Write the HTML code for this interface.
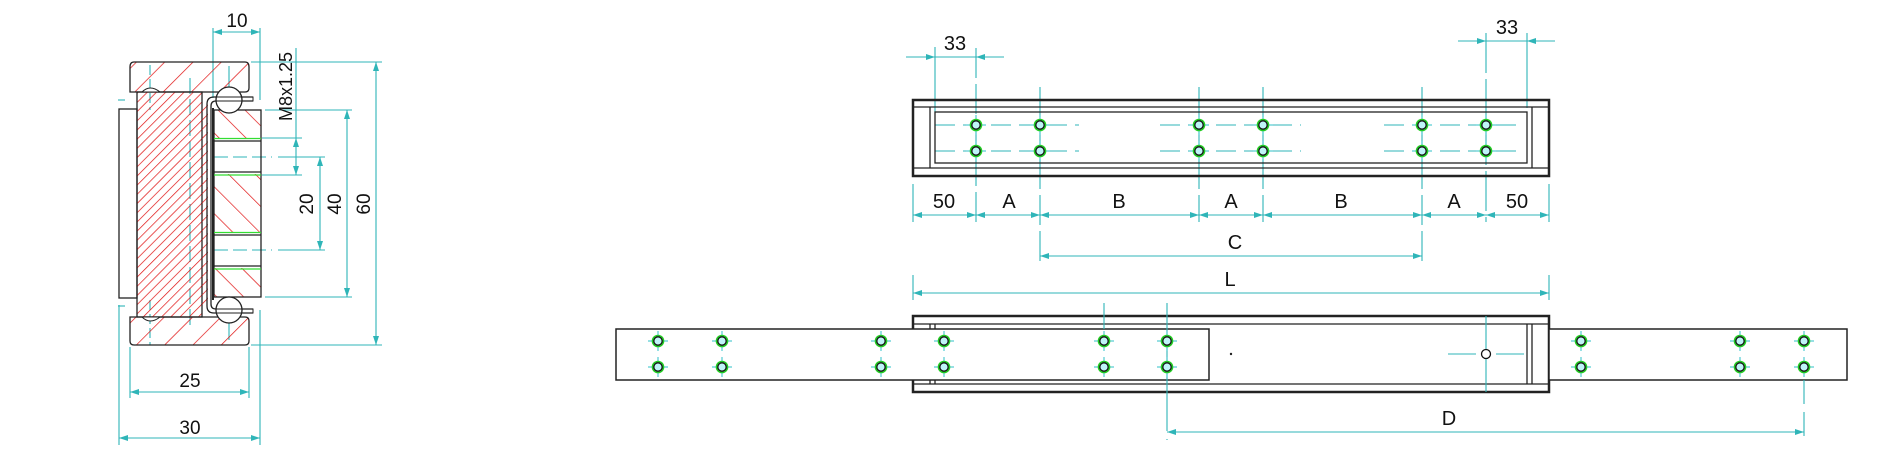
<!DOCTYPE html>
<html><head><meta charset="utf-8"><style>
html,body{margin:0;padding:0;background:#fff;}
svg{display:block;}
text{font-family:"Liberation Sans",sans-serif;fill:#111;}
</style></head><body>
<svg width="1900" height="460" viewBox="0 0 1900 460" xmlns="http://www.w3.org/2000/svg">
<defs>
<pattern id="hb" patternUnits="userSpaceOnUse" width="6.5" height="6.5" patternTransform="rotate(45)">
<line x1="0" y1="0" x2="0" y2="6.5" stroke="#e01010" stroke-width="1.4"/></pattern>
<pattern id="hf" patternUnits="userSpaceOnUse" width="20" height="20" patternTransform="rotate(45)">
<line x1="0" y1="0" x2="0" y2="20" stroke="#e01010" stroke-width="1.4"/></pattern>
<pattern id="hr" patternUnits="userSpaceOnUse" width="19" height="19" patternTransform="rotate(-45)">
<line x1="0" y1="0" x2="0" y2="19" stroke="#e01010" stroke-width="1.4"/></pattern>
<g id="hole">
<line x1="-10" y1="0" x2="10" y2="0" stroke="#2fc0c8" stroke-width="1"/>
<line x1="0" y1="-10" x2="0" y2="10" stroke="#2fc0c8" stroke-width="1"/>
<circle r="5.5" fill="#bff4f8" stroke="#22cc22" stroke-width="1.6"/>
<circle r="4.2" fill="none" stroke="#111" stroke-width="1.3"/>
</g>
</defs>

<!-- ===== LEFT SECTION ===== -->
<g stroke="#2fb5b8" stroke-width="1.1" fill="none">
<line x1="213" y1="28" x2="213" y2="98"/><line x1="260" y1="28" x2="260" y2="100"/>
<line x1="213" y1="32" x2="260" y2="32"/>
<line x1="296" y1="48" x2="296" y2="175"/>
<line x1="262" y1="138" x2="302" y2="138"/><line x1="262" y1="175" x2="302" y2="175"/>
<line x1="278" y1="157" x2="325" y2="157"/><line x1="278" y1="250" x2="325" y2="250"/>
<line x1="320" y1="157" x2="320" y2="250"/>
<line x1="265" y1="110" x2="352" y2="110"/><line x1="265" y1="297" x2="352" y2="297"/>
<line x1="347" y1="110" x2="347" y2="297"/>
<line x1="251" y1="62" x2="382" y2="62"/><line x1="251" y1="345" x2="382" y2="345"/>
<line x1="376" y1="62" x2="376" y2="345"/>
<line x1="130" y1="347" x2="130" y2="398"/><line x1="249" y1="347" x2="249" y2="398"/>
<line x1="130" y1="392" x2="249" y2="392"/>
<line x1="119" y1="305" x2="119" y2="445"/><line x1="260" y1="310" x2="260" y2="445"/>
<line x1="119" y1="438" x2="260" y2="438"/>
<line x1="214" y1="157" x2="272" y2="157" stroke-dasharray="14 5"/>
<line x1="214" y1="250" x2="272" y2="250" stroke-dasharray="14 5"/>
<line x1="150" y1="65" x2="150" y2="110" stroke-dasharray="10 4"/>
<line x1="150" y1="300" x2="150" y2="345" stroke-dasharray="10 4"/>
<line x1="190" y1="78" x2="190" y2="330" stroke-dasharray="16 5"/>
<line x1="229" y1="66" x2="229" y2="110"/><line x1="229" y1="298" x2="229" y2="340"/>
<line x1="118" y1="100" x2="125" y2="100"/><line x1="118" y1="306" x2="125" y2="306"/>
</g>
<g fill="#2fb5b8">
<polygon points="213,32 222,29 222,35"/><polygon points="260,32 251,29 251,35"/>
<polygon points="296,138 293,147 299,147"/><polygon points="296,175 293,166 299,166"/>
<polygon points="320,157 317,166 323,166"/><polygon points="320,250 317,241 323,241"/>
<polygon points="347,110 344,119 350,119"/><polygon points="347,297 344,288 350,288"/>
<polygon points="376,62 373,71 379,71"/><polygon points="376,345 373,336 379,336"/>
<polygon points="130,392 139,389 139,395"/><polygon points="249,392 240,389 240,395"/>
<polygon points="119,438 128,435 128,441"/><polygon points="260,438 251,435 251,441"/>
</g>
<rect x="119" y="109" width="18" height="189" fill="#fff" stroke="#222" stroke-width="1.3"/>
<path d="M134,62 L245,62 Q249,62 249,67 L249,88 Q249,92 245,92 L130,92 L130,67 Q130,62 134,62 Z" fill="url(#hf)" stroke="#222" stroke-width="1.3"/>
<path d="M130,317 L245,317 Q249,317 249,321 L249,341 Q249,345 245,345 L134,345 Q130,345 130,341 Z" fill="url(#hf)" stroke="#222" stroke-width="1.3"/>
<rect x="137" y="92" width="65" height="225" fill="url(#hb)" stroke="#222" stroke-width="1.3"/>
<path d="M142,92 Q150,84 160,92 Z" fill="#fff" stroke="#222"/>
<path d="M142,317 Q150,325 160,317 Z" fill="#fff" stroke="#222"/>
<rect x="202" y="104" width="6" height="202" fill="url(#hb)"/>
<path d="M253,97 L214,97 Q207,97 207,104 L207,306 Q207,313 214,313 L253,313" fill="none" stroke="#222" stroke-width="1.3"/>
<path d="M253,101 L216,101 Q211,101 211,106 L211,304 Q211,309 216,309 L253,309" fill="none" stroke="#222" stroke-width="1.3"/>
<line x1="213" y1="108" x2="213" y2="300" stroke="#222" stroke-width="2"/>
<rect x="214" y="110" width="47" height="28" fill="url(#hr)"/>
<rect x="214" y="174" width="47" height="59" fill="url(#hr)"/>
<rect x="214" y="268" width="47" height="29" fill="url(#hr)"/>
<rect x="214" y="110" width="47" height="187" fill="none" stroke="#222" stroke-width="1.3"/>
<g stroke="#222" stroke-width="1.2">
<line x1="214" y1="141" x2="261" y2="141"/><line x1="214" y1="172" x2="261" y2="172"/>
<line x1="214" y1="235" x2="261" y2="235"/><line x1="214" y1="266" x2="261" y2="266"/>
</g>
<g stroke="#33dd33" stroke-width="1.2">
<line x1="214" y1="138.5" x2="261" y2="138.5"/><line x1="214" y1="175" x2="261" y2="175"/>
<line x1="214" y1="232.5" x2="261" y2="232.5"/><line x1="214" y1="269" x2="261" y2="269"/>
</g>
<circle cx="229" cy="100" r="13" fill="#fff" stroke="#222" stroke-width="1.3"/>
<circle cx="229" cy="310" r="13" fill="#fff" stroke="#222" stroke-width="1.3"/>
<path d="M216,97 L253,97 L253,101 L216,101" fill="none" stroke="#222" stroke-width="1"/>
<path d="M216,309 L253,309 L253,313 L216,313" fill="none" stroke="#222" stroke-width="1"/>

<g font-size="19">
<text x="237" y="27" text-anchor="middle">10</text>
<text x="190" y="387" text-anchor="middle">25</text>
<text x="190" y="434" text-anchor="middle">30</text>
<text transform="translate(292,121) rotate(-90)" text-anchor="start" font-size="18">M8x1.25</text>
<text transform="translate(313,204) rotate(-90)" text-anchor="middle">20</text>
<text transform="translate(341,204) rotate(-90)" text-anchor="middle">40</text>
<text transform="translate(370,204) rotate(-90)" text-anchor="middle">60</text>
</g>

<!-- ===== TOP RAIL VIEW ===== -->
<g stroke="#2fb5b8" stroke-width="1.1" fill="none">
<line x1="906" y1="57" x2="1004" y2="57"/>
<line x1="935" y1="47" x2="935" y2="112"/>
<line x1="976" y1="48" x2="976" y2="222" stroke-dasharray="30 6"/>
<line x1="1458" y1="41" x2="1555" y2="41"/>
<line x1="1486" y1="33" x2="1486" y2="222" stroke-dasharray="40 6"/>
<line x1="1527" y1="33" x2="1527" y2="108"/>
<line x1="1040" y1="87" x2="1040" y2="262" stroke-dasharray="30 6"/>
<line x1="1199" y1="87" x2="1199" y2="222" stroke-dasharray="30 6"/>
<line x1="1263" y1="87" x2="1263" y2="222" stroke-dasharray="30 6"/>
<line x1="1422" y1="87" x2="1422" y2="262" stroke-dasharray="30 6"/>
<line x1="913" y1="184" x2="913" y2="222"/><line x1="1549" y1="184" x2="1549" y2="222"/>
<line x1="913" y1="215" x2="1549" y2="215"/>
<line x1="1040" y1="256" x2="1422" y2="256"/>
<line x1="913" y1="275" x2="913" y2="300"/><line x1="1549" y1="275" x2="1549" y2="300"/>
<line x1="913" y1="293" x2="1549" y2="293"/>
<g stroke-dasharray="20 8">
<line x1="935" y1="125" x2="1079" y2="125"/><line x1="935" y1="151" x2="1079" y2="151"/>
<line x1="1160" y1="125" x2="1301" y2="125"/><line x1="1160" y1="151" x2="1301" y2="151"/>
<line x1="1384" y1="125" x2="1524" y2="125"/><line x1="1384" y1="151" x2="1524" y2="151"/>
</g>
</g>
<g fill="#2fb5b8">
<polygon points="935,57 926,54 926,60"/><polygon points="976,57 985,54 985,60"/>
<polygon points="1486,41 1477,38 1477,44"/><polygon points="1527,41 1536,38 1536,44"/>
<polygon points="913,215 922,212 922,218"/><polygon points="976,215 967,212 967,218"/>
<polygon points="976,215 985,212 985,218"/><polygon points="1040,215 1031,212 1031,218"/>
<polygon points="1040,215 1049,212 1049,218"/><polygon points="1199,215 1190,212 1190,218"/>
<polygon points="1199,215 1208,212 1208,218"/><polygon points="1263,215 1254,212 1254,218"/>
<polygon points="1263,215 1272,212 1272,218"/><polygon points="1422,215 1413,212 1413,218"/>
<polygon points="1422,215 1431,212 1431,218"/><polygon points="1486,215 1477,212 1477,218"/>
<polygon points="1486,215 1495,212 1495,218"/><polygon points="1549,215 1540,212 1540,218"/>
<polygon points="1040,256 1049,253 1049,259"/><polygon points="1422,256 1413,253 1413,259"/>
<polygon points="913,293 922,290 922,296"/><polygon points="1549,293 1540,290 1540,296"/>
</g>
<rect x="913" y="100" width="636" height="76" fill="none" stroke="#222" stroke-width="2.5"/>
<g stroke="#222" stroke-width="1.3" fill="none">
<line x1="913" y1="107" x2="1549" y2="107"/><line x1="913" y1="168" x2="1549" y2="168"/>
<rect x="935" y="112" width="592" height="51"/>
<line x1="930" y1="107" x2="930" y2="168"/><line x1="1532" y1="107" x2="1532" y2="168"/>
</g>
<g>
<use href="#hole" x="976" y="125"/><use href="#hole" x="1040" y="125"/><use href="#hole" x="1199" y="125"/>
<use href="#hole" x="1263" y="125"/><use href="#hole" x="1422" y="125"/><use href="#hole" x="1486" y="125"/>
<use href="#hole" x="976" y="151"/><use href="#hole" x="1040" y="151"/><use href="#hole" x="1199" y="151"/>
<use href="#hole" x="1263" y="151"/><use href="#hole" x="1422" y="151"/><use href="#hole" x="1486" y="151"/>
</g>
<g font-size="20" text-anchor="middle">
<text x="955" y="50">33</text><text x="1507" y="34">33</text>
<text x="944" y="208">50</text><text x="1009" y="208">A</text><text x="1119" y="208">B</text>
<text x="1231" y="208">A</text><text x="1341" y="208">B</text><text x="1454" y="208">A</text>
<text x="1517" y="208">50</text>
<text x="1235" y="249">C</text><text x="1230" y="286">L</text>
</g>

<!-- ===== BOTTOM EXTENDED VIEW ===== -->
<rect x="913" y="316" width="636" height="76" fill="none" stroke="#222" stroke-width="2.5"/>
<g stroke="#222" stroke-width="1.3" fill="none">
<line x1="913" y1="324" x2="1549" y2="324"/><line x1="913" y1="384" x2="1549" y2="384"/>
<line x1="930" y1="324" x2="930" y2="384"/><line x1="935" y1="324" x2="935" y2="384"/>
<line x1="1527" y1="324" x2="1527" y2="384"/><line x1="1532" y1="324" x2="1532" y2="384"/>
</g>
<rect x="616" y="329" width="593" height="51" fill="#fff" stroke="#222" stroke-width="1.5"/>
<rect x="1549" y="329" width="298" height="51" fill="#fff" stroke="#222" stroke-width="1.5"/>
<g stroke="#2fb5b8" stroke-width="1.1" fill="none">
<line x1="1104" y1="303" x2="1104" y2="329"/>
<line x1="1167" y1="303" x2="1167" y2="440" stroke-dasharray="60 8"/>
<line x1="1804" y1="380" x2="1804" y2="440" stroke-dasharray="24 8"/>
<line x1="1486" y1="316" x2="1486" y2="392"/>
<line x1="1448" y1="354" x2="1476" y2="354"/><line x1="1496" y1="354" x2="1524" y2="354"/>
<line x1="1167" y1="432" x2="1804" y2="432"/>
</g>
<g fill="#2fb5b8">
<polygon points="1167,432 1176,429 1176,435"/><polygon points="1804,432 1795,429 1795,435"/>
</g>
<circle cx="1486" cy="354" r="4.5" fill="#fff" stroke="#111" stroke-width="1.3"/>
<circle cx="1231" cy="354" r="1.2" fill="#222"/>
<g>
<use href="#hole" x="658" y="341"/><use href="#hole" x="722" y="341"/><use href="#hole" x="881" y="341"/>
<use href="#hole" x="944" y="341"/><use href="#hole" x="1104" y="341"/><use href="#hole" x="1167" y="341"/>
<use href="#hole" x="658" y="367"/><use href="#hole" x="722" y="367"/><use href="#hole" x="881" y="367"/>
<use href="#hole" x="944" y="367"/><use href="#hole" x="1104" y="367"/><use href="#hole" x="1167" y="367"/>
<use href="#hole" x="1581" y="341"/><use href="#hole" x="1740" y="341"/><use href="#hole" x="1804" y="341"/>
<use href="#hole" x="1581" y="367"/><use href="#hole" x="1740" y="367"/><use href="#hole" x="1804" y="367"/>
</g>
<text x="1449" y="425" font-size="20" text-anchor="middle">D</text>
</svg>
</body></html>
